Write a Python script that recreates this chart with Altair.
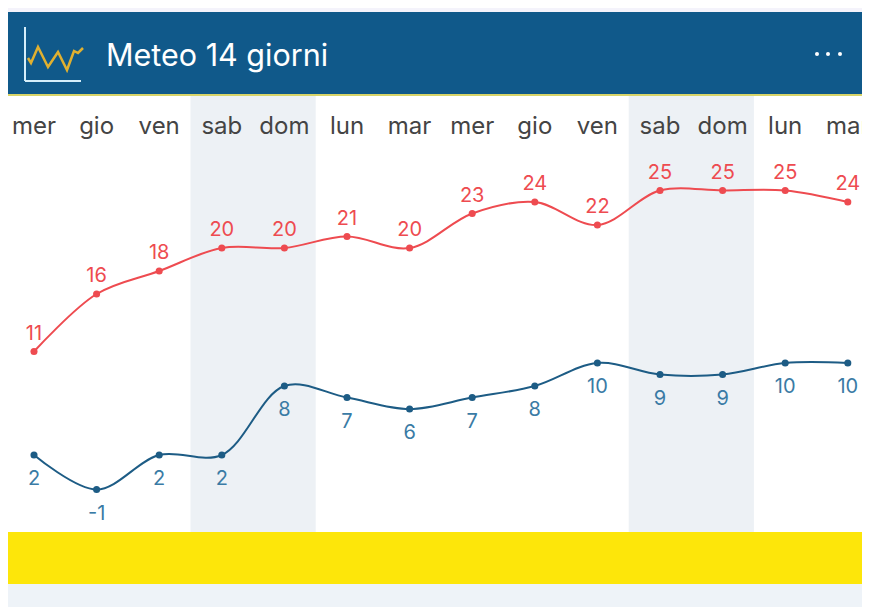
import altair as alt
import pandas as pd

days = ["mer","gio","ven","sab","dom","lun","mar","mer","gio","ven","sab","dom","lun","mar"]
max_temps = [11,16,18,20,20,21,20,23,24,22,25,25,25,24]
min_temps = [2,-1,2,2,8,7,6,7,8,10,9,9,10,10]
weekend_spans = [(3,4),(10,11)]
icon_across = [3,6,13,23,33,42,49,53,58]
icon_rise = [23,18,34,14,29,11,30,28,33]

W, H = 854, 599
STEP = 62.6
x_scale = alt.Scale(domain=[-26/STEP, (W-26)/STEP], nice=False, zero=False)
y_scale = alt.Scale(domain=[-(H-470)/11.5, 470/11.5], nice=False, zero=False)

df = pd.DataFrame({"i": range(14), "day": days, "hi": max_temps, "lo": min_temps})
df["hi_t"] = df["hi"].astype(str)
df["lo_t"] = df["lo"].astype(str)
x = alt.X("i:Q", scale=x_scale, axis=None)

def band(y0, y1, color):
    return alt.Chart(pd.DataFrame({"a":[0]})).mark_rect(color=color).encode(
        x=alt.value(0), x2=alt.value(W), y=alt.value(y0-8), y2=alt.value(y1-8))

spans = pd.DataFrame({"a":[s[0]-0.5 for s in weekend_spans], "b":[s[1]+0.5 for s in weekend_spans]})
weekend = alt.Chart(spans).mark_rect(color="#edf1f5").encode(
    x=alt.X("a:Q", scale=x_scale, axis=None), x2="b:Q", y=alt.value(96-8), y2=alt.value(532-8))

def line(col, color):
    return alt.Chart(df).mark_line(color=color, strokeWidth=2, interpolate="catmull-rom").encode(
        x=x, y=alt.Y(f"{col}:Q", scale=y_scale, axis=None))

def pts(col, color):
    return alt.Chart(df).mark_circle(color=color, size=50, opacity=1).encode(
        x=x, y=alt.Y(f"{col}:Q", scale=y_scale, axis=None))

def labels(col, color, dy):
    return alt.Chart(df).mark_text(color=color, fontSize=20, font="Inter", dy=dy).encode(
        x=x, y=alt.Y(f"{col}:Q", scale=y_scale, axis=None), text=f"{col}_t:N")

day_labels = alt.Chart(df).mark_text(color="#444444", fontSize=24, font="Inter", clip=True).encode(
    x=x, y=alt.value(126.5-8), text="day:N")

title = alt.Chart(pd.DataFrame({"t":["Meteo 14 giorni"]})).mark_text(
    color="#ffffff", fontSize=30.5, font="Inter", align="left").encode(
    x=alt.value(106-8), y=alt.value(57-8), text="t:N")

dots = alt.Chart(pd.DataFrame({"x":[809,820,832]})).mark_circle(color="#ffffff", size=16, opacity=1).encode(
    x=alt.X("x:Q", scale=None), y=alt.value(54-8))

icon_axis_v = alt.Chart(pd.DataFrame({"a":[0]})).mark_rule(color="#d5eefa", strokeWidth=2).encode(
    x=alt.value(25-8), y=alt.value(27-8), y2=alt.value(81-8))
icon_axis_h = alt.Chart(pd.DataFrame({"a":[0]})).mark_rule(color="#d5eefa", strokeWidth=2).encode(
    x=alt.value(25-8), x2=alt.value(81-8), y=alt.value(81-8))
icon_df = pd.DataFrame({"a": icon_across, "v": icon_rise})
icon = alt.Chart(icon_df).mark_line(color="#e0b030", strokeWidth=2.5).encode(
    x=alt.X("a:Q", axis=None, scale=alt.Scale(domain=[0,56], range=[17,73], nice=False, zero=False)),
    y=alt.Y("v:Q", axis=None, scale=alt.Scale(domain=[0,54], range=[73,19], nice=False, zero=False)))

base = alt.layer(
    band(8,12,"#f4f3fb"), band(12,94,"#10598a"), band(94,96,"#d8d468"),
    weekend,
    band(532,584,"#fde60a"), band(584,607,"#eef3f8"),
    day_labels,
    line("hi","#ee4b50"), pts("hi","#ee4b50"), labels("hi","#ee4b50",-18),
    line("lo","#1d5c85"), pts("lo","#1d5c85"), labels("lo","#3a7ba5",24),
    title, dots, icon_axis_v, icon_axis_h,
)

chart = alt.layer(base, icon).resolve_scale(x="independent", y="independent").properties(
    width=W, height=H, padding=0, autosize=alt.AutoSizeParams(type="none"),
    background="#ffffff"
).configure_view(stroke=None)

chart.save("out.html", embed_options={"renderer": "svg", "actions": False})
